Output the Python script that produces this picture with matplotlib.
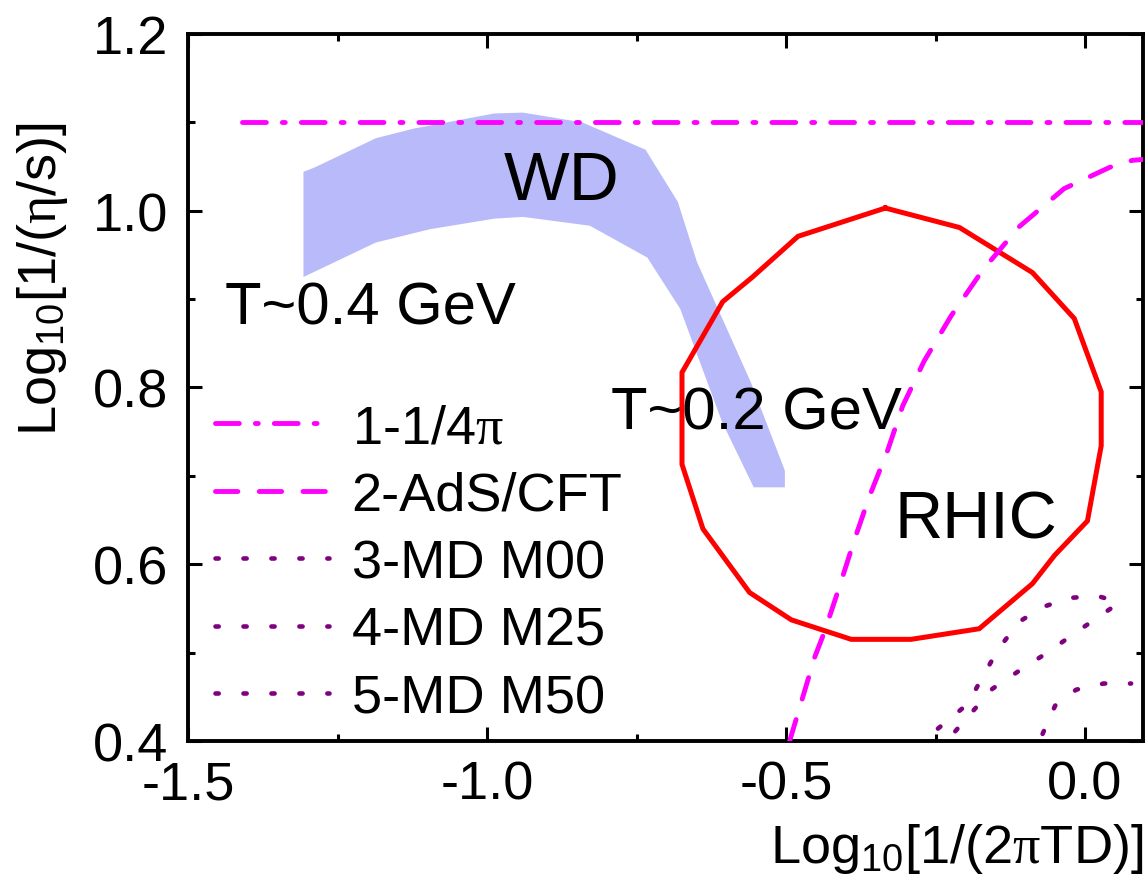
import matplotlib
matplotlib.use("Agg")
import matplotlib.pyplot as plt
from matplotlib.ticker import MultipleLocator, FormatStrFormatter

plt.rcParams['font.family'] = ['Liberation Sans', 'DejaVu Sans']
plt.rcParams['mathtext.fontset'] = 'custom'
plt.rcParams['mathtext.rm'] = 'Liberation Sans'
plt.rcParams['mathtext.it'] = 'Liberation Sans:italic'
plt.rcParams['mathtext.cal'] = 'Liberation Serif'
plt.rcParams['axes.unicode_minus'] = False

# ---------------- data ----------------
# WD band (upper and lower edges)
wd_upper_x = [-1.307, -1.288, -1.186, -1.122, -0.988, -0.940, -0.841, -0.735,
              -0.681, -0.649, -0.559, -0.502, -0.502]
wd_upper_y = [1.044, 1.049, 1.082, 1.093, 1.110, 1.111, 1.100, 1.069,
              1.010, 0.942, 0.806, 0.706, 0.687]
wd_lower_x = [-1.307, -1.186, -1.096, -0.988, -0.940, -0.828, -0.732,
              -0.677, -0.607, -0.554]
wd_lower_y = [0.925, 0.964, 0.979, 0.991, 0.993, 0.983, 0.947,
              0.889, 0.761, 0.687]

# RHIC contour
rhic_x = [-0.334, -0.210, -0.088, -0.018, 0.027, 0.027, 0.004, -0.051, -0.088,
          -0.177, -0.291, -0.391, -0.491, -0.561, -0.639, -0.674, -0.674,
          -0.606, -0.556, -0.480, -0.334]
rhic_y = [1.003, 0.981, 0.930, 0.878, 0.795, 0.734, 0.649, 0.610, 0.578,
          0.527, 0.515, 0.515, 0.537, 0.568, 0.640, 0.713, 0.817,
          0.897, 0.925, 0.971, 1.003]

# 1 - 1/4pi
kss_x = [-1.41, 0.097]
kss_y = [1.10, 1.10]

# 2 - AdS/CFT
ads_x = [-0.494, -0.486, -0.452, -0.436, -0.411, -0.386, -0.361, -0.330, -0.305,
         -0.269, -0.224, -0.171, -0.110, -0.035, 0.041, 0.079, 0.097]
ads_y = [0.400, 0.418, 0.495, 0.523, 0.574, 0.627, 0.676, 0.729, 0.779,
         0.830, 0.881, 0.933, 0.982, 1.025, 1.049, 1.057, 1.058]

# MD curves
m00_x = [-0.246, -0.196, -0.171, -0.145, -0.110, -0.069, -0.024, 0.021, 0.068]
m00_y = [0.414, 0.442, 0.473, 0.504, 0.535, 0.552, 0.562, 0.564, 0.555]
m25_x = [-0.217, -0.155, -0.109, -0.063, -0.017, 0.028, 0.074]
m25_y = [0.411, 0.459, 0.480, 0.500, 0.522, 0.543, 0.564]
m50_x = [-0.071, -0.050, -0.015, 0.031, 0.077]
m50_y = [0.408, 0.440, 0.458, 0.465, 0.465]

labels = ['1-1/4$\\mathcal{\\pi}$', '2-AdS/CFT', '3-MD M00', '4-MD M25', '5-MD M50']
xticks = [-1.5, -1.0, -0.5, 0.0]
yticks = [0.4, 0.6, 0.8, 1.0, 1.2]

# ---------------- figure ----------------
fig = plt.figure(figsize=(11.48, 8.87), dpi=100)
ax = fig.add_axes([0.1638, 0.1635, 0.8319, 0.7971])

ax.fill(wd_upper_x + wd_lower_x[::-1], wd_upper_y + wd_lower_y[::-1],
        color='#B8BAF9', lw=0, zorder=1)

ax.plot(rhic_x, rhic_y, color='#FF0000', lw=3.6, zorder=3, solid_joinstyle='miter')

ax.plot(kss_x, kss_y, color='#FF00FF', lw=3.5, dash_capstyle='round',
        linestyle=(0, (4.9, 3.3, 0.6, 3.3)), label=labels[0], zorder=4)
ax.plot(ads_x, ads_y, color='#FF00FF', lw=3.5, dash_capstyle='round',
        linestyle=(0, (4.6, 4.4)), label=labels[1], zorder=4)
for xs, ys, lab in [(m00_x, m00_y, labels[2]), (m25_x, m25_y, labels[3]),
                    (m50_x, m50_y, labels[4])]:
    ax.plot(xs, ys, color='#800080', lw=3.3, dash_capstyle='round',
            linestyle=(0, (0.7, 5.4)), label=lab, zorder=4)

ax.set_xlim(-1.5, 0.097)
ax.set_ylim(0.4, 1.2)
ax.set_xticks(xticks)
ax.set_yticks(yticks)
ax.xaxis.set_major_formatter(FormatStrFormatter('%.1f'))
ax.yaxis.set_major_formatter(FormatStrFormatter('%.1f'))
ax.xaxis.set_minor_locator(MultipleLocator(0.25))
ax.yaxis.set_minor_locator(MultipleLocator(0.1))
ax.tick_params(which='both', direction='in', top=True, right=True, width=2.2)
ax.tick_params(which='major', length=10, labelsize=39)
ax.tick_params(which='minor', length=5)
ax.tick_params(axis='x', which='major', pad=13)
ax.tick_params(axis='y', which='major', pad=14)
for sp in ax.spines.values():
    sp.set_linewidth(2.8)

ax.text(-1.438, 0.872, 'T~0.4 GeV', fontsize=43, va='baseline', ha='left', zorder=5)
ax.text(-0.9716, 1.013, 'WD', fontsize=50, va='baseline', ha='left', zorder=5)
ax.text(-0.7926, 0.754, 'T~0.2 GeV', fontsize=43, va='baseline', ha='left', zorder=5)
ax.text(-0.3187, 0.6305, 'RHIC', fontsize=48, va='baseline', ha='left', zorder=5)

fig.text(0.9956, (887 - 863) / 887, 'Log$_{10}$[1/(2$\\mathcal{\\pi}$TD)]', fontsize=39,
         ha='right', va='baseline')
ax.set_ylabel('Log$_{10}$[1/($\\mathcal{\\eta}$/s)]', fontsize=39)
ax.yaxis.set_label_coords(-0.1236, 0.655)

leg = ax.legend(loc='upper left', bbox_to_anchor=(0.0283, 0.478), frameon=False,
                fontsize=39, handlelength=2.1, handletextpad=0.42,
                labelspacing=0.325, borderpad=0, borderaxespad=0)

fig.savefig('out.png', dpi=100)
